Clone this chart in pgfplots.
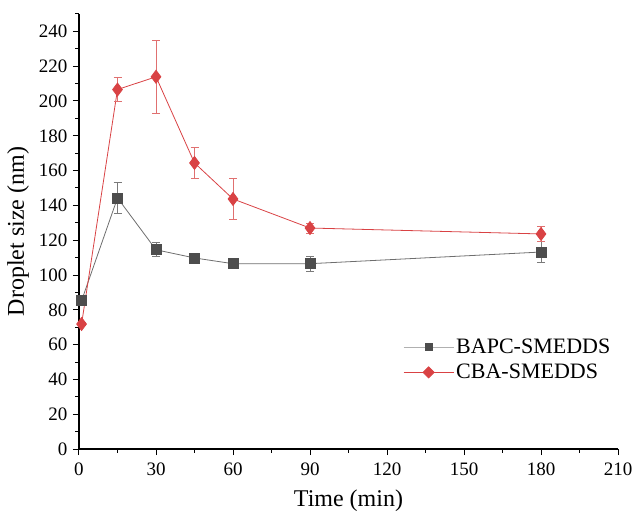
\documentclass[border=0pt]{standalone}
\usepackage{pgfplots}
\pgfplotsset{compat=1.18}
\usepackage{fontspec}
\setmainfont{Liberation Serif}
\definecolor{bapc}{HTML}{4D4D4D}
\definecolor{bapcline}{HTML}{6E6E6E}
\definecolor{bapcleg}{HTML}{B0B0B0}
\definecolor{bapcerr}{HTML}{7A7A7A}
\definecolor{cba}{HTML}{D94244}
\definecolor{cbaerr}{HTML}{E07070}
\begin{document}
\begin{tikzpicture}
\begin{axis}[
  name=ax,
  scale only axis,
  width=539pt, height=435pt,
  xmin=0, xmax=210, ymin=0, ymax=250,
  axis lines=left,
  axis line style={line width=1.3pt, -},
  xtick={0,30,...,210}, ytick={0,20,...,240},
  minor xtick={15,45,...,195}, minor ytick={10,30,...,250},
  tick align=outside,
  major tick length=6pt, minor tick length=3.5pt,
  every tick/.style={black, line width=1pt},
  tick label style={font=\fontsize{19}{22}\selectfont},
  xticklabel style={yshift=-4pt},
  yticklabel style={xshift=-2pt},
  /pgf/number format/assume math mode=true,
  xlabel={Time (min)}, ylabel={Droplet size (nm)},
  label style={font=\fontsize{24}{28}\selectfont},
  xlabel style={yshift=-8pt},
  ylabel style={yshift=3pt},
  legend style={at={(axis cs:125,65.5)}, anchor=north west, draw=none, fill=none,
    font=\fontsize{22}{25}\selectfont, row sep=5pt},
  legend cell align=left,
  clip=false,
]
\addplot[color=bapcline, line width=0.8pt, mark=square*,
  mark options={fill=bapc, draw=bapc, mark size=5pt, solid},
  legend image code/.code={
    \draw[bapcleg, line width=1.2pt] (0pt,0pt) -- (50pt,0pt);
    \fill[bapc] (21.5pt,-3.5pt) rectangle (28.5pt,3.5pt);},
  error bars/.cd, y dir=both, y explicit,
  error bar style={color=bapcerr, line width=0.9pt},
  error mark options={rotate=90, mark size=4pt, color=bapcerr, line width=0.9pt}]
  table[x=t, y=y, y error=e] {
t y e
1 85.2 2.5
15 144.3 8.9
30 114.5 4.0
45 109.8 1.5
60 106.5 1.2
90 106.5 4.2
180 113.2 6.0
};
\addlegendentry{BAPC-SMEDDS}
\addplot[color=cba, line width=0.8pt, mark=diamond*,
  mark options={fill=cba, draw=cba, mark size=6.5pt, solid},
  legend image code/.code={
    \draw[cba, line width=1.2pt] (0pt,0pt) -- (50pt,0pt);
    \fill[cba] (19.5pt,0pt) -- (25pt,5.5pt) -- (30.5pt,0pt) -- (25pt,-5.5pt) -- cycle;},
  error bars/.cd, y dir=both, y explicit,
  error bar style={color=cbaerr, line width=0.9pt},
  error mark options={rotate=90, mark size=4pt, color=cbaerr, line width=0.9pt}]
  table[x=t, y=y, y error=e] {
t y e
1 71.8 1.0
15 206.6 6.7
30 213.9 21.0
45 164.4 9.1
60 143.7 11.8
90 127.0 2.9
180 123.6 4.3
};
\addlegendentry{CBA-SMEDDS}
\end{axis}
\pgfresetboundingbox
\path ([shift={(-79pt,-65pt)}]ax.south west) rectangle ([shift={(16pt,14pt)}]ax.north east);
\end{tikzpicture}
\end{document}
